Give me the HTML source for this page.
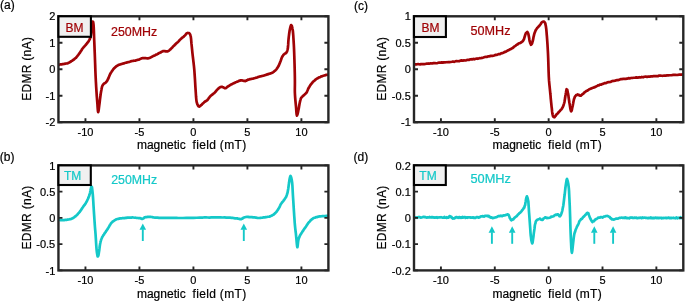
<!DOCTYPE html>
<html><head><meta charset="utf-8"><style>
html,body{margin:0;padding:0;background:#fff;width:685px;height:301px;overflow:hidden}
svg{display:block;will-change:transform}
text{font-family:"Liberation Sans",sans-serif;font-size:12px;fill:#000;stroke:#000;stroke-width:0.2px}
.tk{font-size:11px}
</style></head><body>
<svg width="685" height="301" viewBox="0 0 685 301">
<rect width="685" height="301" fill="#fff"/>
<clipPath id="clipa"><rect x="58.45" y="16.3" width="269.95" height="105.9"/></clipPath>
<g clip-path="url(#clipa)"><polyline points="58.60,64.80 59.26,64.70 59.91,64.52 60.56,64.35 61.22,64.43 61.90,64.34 62.60,64.00 63.47,64.04 64.38,63.82 65.32,63.63 66.25,63.51 67.15,63.43 68.00,63.19 68.72,62.68 69.41,62.45 70.07,61.91 70.71,61.64 71.35,61.10 72.00,60.79 72.67,60.37 73.34,59.81 74.00,59.47 74.66,58.82 75.29,58.25 75.90,57.82 76.51,57.05 77.10,56.40 77.66,55.74 78.21,55.04 78.76,54.18 79.30,53.39 79.86,52.77 80.41,51.79 80.95,51.09 81.49,50.21 82.03,49.26 82.60,48.49 83.14,47.83 83.70,47.21 84.26,46.57 84.82,45.95 85.37,45.35 85.90,44.81 86.38,44.12 86.86,43.52 87.33,43.01 87.78,42.31 88.21,41.74 88.60,41.31 88.94,40.67 89.25,40.15 89.54,39.50 89.81,39.04 90.07,38.48 90.30,37.68 90.59,36.72 90.83,35.46 91.02,33.97 91.19,32.71 91.34,31.29 91.50,30.04 91.63,28.81 91.75,27.72 91.85,26.56 91.95,25.28 92.07,24.28 92.20,23.54 92.29,23.10 92.39,22.41 92.60,21.57 93.11,21.95 93.31,22.89 93.40,23.47 93.60,25.31 93.75,27.79 93.88,30.73 93.98,33.77 94.08,36.95 94.20,40.07 94.34,43.13 94.48,46.62 94.61,50.08 94.75,53.38 94.88,56.71 95.00,60.07 95.10,62.71 95.20,65.39 95.29,68.10 95.38,70.78 95.48,73.26 95.60,75.96 95.73,78.67 95.87,81.54 96.03,84.19 96.18,87.00 96.34,89.44 96.50,91.96 96.63,93.94 96.76,95.81 96.89,97.46 97.02,99.13 97.16,100.80 97.30,102.61 97.44,104.36 97.57,106.58 97.72,108.65 97.86,110.28 98.02,111.57 98.20,112.10 98.55,110.92 98.74,109.59 98.93,108.13 99.12,106.51 99.30,105.11 99.48,103.81 99.64,102.56 99.81,101.03 99.97,99.66 100.13,98.30 100.30,96.98 100.46,95.82 100.61,94.80 100.77,93.50 100.94,92.37 101.11,91.53 101.30,90.49 101.46,89.66 101.60,88.67 101.76,87.96 101.93,87.17 102.14,86.28 102.40,85.76 102.62,85.37 102.87,84.96 103.41,84.28 104.00,83.65 104.65,83.22 105.34,82.83 106.00,82.30 106.72,81.48 107.05,80.86 107.37,80.40 107.69,79.60 108.00,79.20 108.35,78.41 108.68,77.67 109.00,76.85 109.32,76.03 109.65,75.16 110.00,74.28 110.31,73.87 110.63,73.16 110.95,72.65 111.29,72.20 111.64,71.64 112.00,71.08 112.39,70.64 112.79,69.99 113.20,69.37 113.64,68.79 114.10,68.40 114.60,67.79 115.19,67.33 115.82,66.69 116.48,66.14 117.17,65.74 117.88,65.36 118.60,64.82 119.34,64.65 120.12,64.42 120.91,64.18 121.71,63.98 122.51,63.59 123.30,63.53 124.06,63.36 124.82,62.95 125.58,62.78 126.34,62.57 127.11,62.42 127.90,62.18 128.78,61.96 129.70,61.80 130.63,61.38 131.54,61.17 132.41,60.99 133.20,60.81 133.71,60.70 134.64,60.77 135.53,60.59 136.00,60.30 136.53,60.26 137.07,60.07 137.62,59.90 138.17,59.73 138.73,59.62 139.30,59.42 139.94,59.13 140.59,58.82 141.25,58.57 141.92,58.26 142.60,58.15 143.30,58.05 144.06,57.98 144.85,58.04 145.65,58.12 146.46,58.28 147.24,58.44 148.00,58.37 148.70,58.26 149.37,58.06 150.04,57.66 150.69,57.43 151.34,57.05 152.00,56.68 152.66,56.37 153.31,56.08 153.95,55.82 154.60,55.43 155.25,55.17 155.90,54.79 156.57,54.41 157.24,54.14 157.92,53.84 158.59,53.36 159.26,53.11 159.90,52.78 160.46,52.58 161.00,52.26 161.54,51.79 162.07,51.61 162.62,51.34 163.20,51.04 163.84,51.05 164.53,51.12 165.23,51.17 165.92,51.46 166.58,51.46 167.20,51.44 167.70,51.34 168.16,51.10 168.60,50.81 169.03,50.53 169.46,50.16 169.90,49.70 170.45,49.35 171.01,48.68 171.57,48.14 172.12,47.70 172.67,46.94 173.20,46.40 173.69,45.92 174.17,45.62 174.64,44.97 175.11,44.47 175.56,44.21 176.00,43.61 176.67,43.14 177.31,42.50 178.00,41.88 178.50,41.41 179.04,40.77 179.59,40.25 180.16,39.49 180.73,39.10 181.30,38.50 181.85,38.08 182.41,37.48 182.97,37.20 183.53,36.81 184.08,36.15 184.60,35.76 185.07,35.32 185.53,34.82 185.97,34.12 186.41,33.59 186.85,33.19 187.64,32.95 188.35,32.98 189.01,33.10 189.60,33.55 190.06,34.36 190.25,34.85 190.43,35.41 190.60,35.90 190.84,37.05 191.01,38.38 191.14,39.58 191.25,41.08 191.37,42.38 191.50,43.95 191.68,45.66 191.86,47.42 192.04,49.20 192.23,51.03 192.41,52.88 192.60,54.70 192.78,56.13 192.98,57.72 193.17,59.47 193.36,61.07 193.54,62.47 193.70,63.89 193.82,65.03 193.92,65.90 194.02,66.88 194.11,67.83 194.21,68.93 194.30,69.96 194.42,71.46 194.54,73.20 194.66,74.96 194.78,76.53 194.89,78.36 195.00,79.98 195.10,81.72 195.19,83.27 195.27,84.81 195.36,86.43 195.47,88.05 195.60,89.90 195.75,92.08 195.90,94.46 196.06,96.98 196.28,99.34 196.58,101.57 197.00,103.11 197.28,104.09 197.58,104.70 197.91,105.39 198.26,105.90 198.62,106.38 199.29,106.57 199.91,106.17 200.56,105.58 201.42,104.91 201.98,104.40 202.57,103.71 203.16,103.20 203.74,102.69 204.30,102.09 204.74,101.72 205.60,101.22 206.46,100.80 206.90,100.44 207.54,99.87 208.19,99.08 208.85,98.08 209.52,97.21 210.21,96.39 210.90,95.62 211.56,95.15 212.24,94.63 212.93,94.11 213.61,93.43 214.27,93.05 214.90,92.36 215.45,91.80 215.97,91.27 216.47,90.49 216.97,89.89 217.47,89.49 218.00,88.85 218.49,88.44 218.99,88.08 219.51,87.71 220.02,87.21 220.52,87.02 221.34,86.85 222.00,86.91 222.66,87.10 223.41,87.29 223.82,87.60 224.67,88.14 225.50,88.20 226.34,87.79 226.74,87.49 227.15,87.01 227.57,86.67 228.00,86.44 228.47,86.00 228.96,85.88 229.45,85.59 229.95,85.10 230.47,85.00 231.00,84.57 231.63,84.33 232.28,83.98 232.96,83.53 233.64,83.28 234.32,82.95 235.00,82.67 235.66,82.25 236.33,82.07 237.00,81.84 237.66,81.50 238.30,81.23 238.90,80.91 239.77,80.68 240.58,80.39 241.40,80.30 242.25,80.44 243.11,80.65 243.90,80.82 244.42,80.84 244.89,81.04 245.40,81.03 246.18,80.63 247.02,80.32 247.46,80.03 248.37,79.55 249.35,79.47 249.85,79.16 250.37,79.09 250.90,79.05 251.55,78.88 252.22,78.73 252.92,78.61 253.62,78.43 254.32,78.23 255.00,78.02 255.67,77.79 256.34,77.70 257.00,77.46 257.67,77.16 258.33,76.97 259.00,76.67 259.66,76.47 260.31,76.36 260.96,76.34 261.63,76.01 262.30,75.98 263.00,75.74 263.85,75.62 264.74,75.25 265.65,74.95 266.56,74.66 267.45,74.40 268.30,74.17 269.01,73.84 269.70,73.76 270.38,73.38 271.04,73.20 271.68,72.91 272.30,72.61 272.90,72.41 273.48,72.01 274.04,71.45 274.58,71.00 275.10,70.58 275.60,70.16 276.10,69.64 276.59,69.05 277.05,68.42 277.49,67.70 277.91,67.12 278.30,66.43 278.67,65.82 279.00,65.12 279.31,64.30 279.60,63.57 279.90,62.94 280.20,61.99 280.53,61.30 280.85,60.39 281.16,59.46 281.49,58.41 281.83,57.58 282.20,56.82 282.51,56.30 282.82,55.88 283.15,55.34 283.49,54.81 284.20,54.19 284.87,53.64 285.58,53.32 286.20,52.85 286.51,52.26 287.01,51.47 287.22,50.87 287.41,50.19 287.60,49.51 287.87,48.04 288.05,46.24 288.19,44.41 288.30,42.30 288.43,40.44 288.60,38.64 288.79,36.95 288.98,35.32 289.17,33.78 289.39,32.19 289.63,30.54 289.90,29.37 290.11,28.41 290.34,27.31 290.58,26.47 290.83,25.66 291.07,25.10 291.76,25.71 291.99,26.56 292.21,27.32 292.41,28.43 292.60,29.35 292.87,31.00 293.09,33.26 293.27,35.50 293.42,37.99 293.56,40.35 293.70,42.66 293.83,44.75 293.94,46.99 294.04,49.16 294.13,51.33 294.21,53.53 294.30,56.06 294.42,59.68 294.54,63.65 294.66,67.90 294.76,72.16 294.84,76.25 294.90,79.92 294.91,82.44 294.89,84.77 294.86,86.90 294.83,88.99 294.84,91.17 294.90,93.25 295.02,95.54 295.18,97.89 295.37,100.09 295.58,102.28 295.80,104.63 296.00,106.65 296.15,108.38 296.29,110.36 296.44,112.33 296.59,114.01 296.78,115.08 297.00,115.60 297.49,114.33 297.77,113.18 298.06,111.92 298.34,110.36 298.60,109.19 298.85,107.88 299.08,106.58 299.29,105.25 299.51,104.01 299.75,102.73 300.00,101.59 300.19,100.86 300.36,100.18 300.54,99.59 300.74,98.86 300.99,98.25 301.30,97.79 301.67,97.27 302.10,96.87 302.56,96.27 303.05,95.93 303.54,95.51 304.00,94.99 304.45,94.79 304.90,94.20 305.36,93.77 305.80,93.44 306.22,92.92 306.60,92.53 306.97,91.83 307.28,91.08 307.56,90.33 307.84,89.74 308.14,88.88 308.50,88.27 308.96,87.38 309.47,86.66 310.00,85.68 310.56,84.85 311.13,84.07 311.70,83.48 312.20,82.83 312.71,82.20 313.23,81.60 313.76,81.23 314.32,80.80 314.90,80.22 315.55,79.58 316.23,79.11 316.93,78.66 317.65,78.23 318.38,77.78 319.10,77.39 319.80,77.18 320.50,76.91 321.21,76.44 321.92,76.34 322.65,75.95 323.40,75.77 324.20,75.56 325.03,75.35 325.87,74.94 326.71,74.83 327.56,74.72 328.40,74.61" fill="none" stroke="#a00306" stroke-width="2.7" stroke-linejoin="round" stroke-linecap="round"/></g>
<clipPath id="clipb"><rect x="58.45" y="165.4" width="269.95" height="104.99999999999997"/></clipPath>
<g clip-path="url(#clipb)"><polyline points="58.45,219.90 59.15,219.84 59.85,219.97 60.55,220.20 61.25,220.04 61.93,220.16 62.60,220.20 63.19,220.12 63.77,220.17 64.34,220.17 64.90,219.86 65.45,219.95 66.00,219.87 66.52,219.84 67.04,219.69 67.55,219.73 68.05,219.50 69.00,219.37 69.69,219.22 70.33,219.27 71.00,218.99 71.47,218.74 71.97,218.48 72.48,218.39 73.00,218.06 73.51,217.78 74.00,217.37 74.52,217.03 75.02,216.55 75.53,216.31 76.03,215.67 76.52,215.36 77.00,214.98 77.52,214.42 78.03,213.69 78.53,213.16 79.02,212.74 79.51,212.07 80.00,211.51 80.51,210.82 81.02,209.96 81.51,209.35 82.01,208.55 82.50,207.68 83.00,206.96 83.51,206.17 84.03,205.56 84.55,205.03 85.06,204.08 85.55,203.52 86.00,202.68 86.38,202.02 86.74,201.53 87.07,200.74 87.39,200.02 87.70,199.38 88.00,198.84 88.30,198.13 88.58,197.26 88.86,196.62 89.12,196.13 89.37,195.17 89.60,194.52 89.84,193.58 90.05,192.74 90.24,191.71 90.43,190.80 90.61,189.82 90.80,188.91 91.07,187.73 91.21,187.12 91.47,186.52 91.92,187.05 92.07,187.94 92.22,189.33 92.36,190.31 92.50,191.72 92.76,194.11 93.01,197.45 93.25,200.97 93.47,204.86 93.69,208.39 93.90,211.64 94.06,214.07 94.22,216.42 94.36,218.49 94.51,220.74 94.65,222.81 94.80,224.78 94.93,226.72 95.06,228.27 95.19,229.93 95.32,231.34 95.46,233.12 95.60,234.89 95.78,237.60 95.95,240.34 96.13,243.47 96.32,246.50 96.54,249.09 96.80,251.52 96.97,252.75 97.14,253.86 97.33,255.04 97.52,255.96 97.71,256.48 98.27,255.91 98.46,255.22 98.65,253.99 98.83,252.96 99.00,251.88 99.18,250.75 99.34,249.47 99.49,248.39 99.64,247.01 99.81,245.79 100.00,244.65 100.18,243.62 100.36,242.82 100.55,241.84 100.76,240.98 100.97,240.36 101.20,239.62 101.37,239.14 101.55,238.55 101.92,237.79 102.14,237.25 102.40,236.95 102.84,236.18 103.36,235.18 103.94,234.53 104.52,233.47 105.09,232.63 105.60,232.07 105.96,231.40 106.31,230.96 106.64,230.51 106.96,229.85 107.60,229.07 107.92,228.41 108.24,227.92 108.55,227.35 108.86,226.93 109.18,226.40 109.50,225.74 109.82,225.16 110.15,224.70 110.47,224.21 110.81,223.60 111.50,222.70 112.10,222.18 112.73,221.54 113.09,221.33 113.50,221.04 114.16,220.61 114.90,220.07 115.72,219.62 116.57,219.32 117.44,219.05 118.30,218.81 119.21,218.61 120.15,218.40 121.12,218.45 122.08,218.19 123.01,218.17 123.90,218.22 124.60,218.11 125.26,217.88 125.90,217.79 126.55,217.90 127.21,217.60 127.90,217.59 128.75,217.66 129.62,217.63 130.52,217.49 131.43,217.57 132.36,217.44 133.30,217.51 134.40,217.73 135.57,217.71 136.75,217.95 137.91,218.00 138.97,218.19 139.90,218.06 140.41,218.25 140.87,218.38 141.29,218.71 142.09,218.95 142.92,218.72 143.68,218.25 144.07,217.75 145.00,217.24 145.79,217.03 146.69,217.08 147.65,216.92 148.65,216.95 149.65,216.90 150.60,216.86 151.47,217.03 152.31,217.18 153.14,217.32 154.00,217.51 154.91,217.60 155.90,217.52 157.44,217.58 159.12,217.84 160.90,217.89 162.74,217.85 164.62,217.97 166.50,217.92 168.60,217.86 170.72,217.84 172.89,217.94 175.11,217.78 177.41,217.96 179.80,218.02 182.97,217.99 186.40,217.81 189.95,217.82 193.45,217.84 196.75,217.75 199.70,217.63 201.48,217.54 203.10,217.53 204.62,217.39 206.11,217.36 207.65,217.48 209.30,217.55 211.41,217.39 213.63,217.33 215.91,217.30 218.20,217.34 220.45,217.34 222.60,217.49 224.48,217.45 226.38,217.68 228.24,217.54 230.02,217.70 231.69,217.88 233.20,217.97 234.12,218.20 234.98,218.29 235.78,218.42 236.54,218.43 237.28,218.36 238.00,218.62 238.57,218.72 239.12,218.84 239.64,218.92 240.16,219.15 240.67,219.14 241.20,219.22 241.78,218.78 242.34,218.62 242.90,218.12 243.49,217.74 244.11,217.48 244.80,217.24 245.81,216.98 246.92,216.89 248.11,216.83 249.34,217.14 250.58,217.02 251.80,217.16 253.12,217.40 254.49,217.39 255.88,217.54 257.24,217.90 258.56,218.00 259.80,217.90 260.75,217.80 261.67,217.74 262.56,217.59 263.42,217.42 264.23,217.33 265.00,217.44 265.54,217.11 266.05,217.09 267.00,216.97 267.90,216.77 268.63,216.73 269.31,216.60 270.00,216.40 270.74,216.07 271.49,215.83 272.20,215.25 272.82,214.97 273.41,214.78 274.00,214.07 274.63,213.63 275.26,213.15 275.90,212.43 276.38,211.94 276.87,211.13 277.37,210.47 277.87,209.93 278.35,208.93 278.80,208.42 279.19,207.49 279.55,207.02 279.89,206.19 280.23,205.46 280.60,204.59 281.00,203.87 281.46,203.39 281.96,202.53 282.49,201.87 283.01,201.40 283.52,200.76 284.00,199.86 284.40,199.57 284.80,198.89 285.18,198.29 285.55,197.66 285.89,197.17 286.20,196.75 286.49,195.88 286.75,195.16 286.99,194.47 287.20,193.75 287.40,193.06 287.60,192.42 287.84,191.01 288.06,189.76 288.26,188.64 288.45,187.30 288.62,185.98 288.80,184.52 288.94,183.58 289.07,182.81 289.19,181.74 289.31,180.92 289.45,179.95 289.60,179.06 289.73,178.49 289.87,177.91 290.02,177.23 290.18,176.58 290.50,176.00 290.97,176.80 291.22,177.68 291.47,178.69 291.70,179.83 291.90,181.00 292.16,182.71 292.36,185.02 292.51,187.52 292.63,190.00 292.76,192.33 292.90,195.04 293.07,197.60 293.24,200.06 293.40,202.78 293.56,205.45 293.73,208.06 293.90,210.94 294.06,213.19 294.22,215.73 294.38,217.89 294.54,220.20 294.71,222.73 294.90,224.89 295.07,226.70 295.24,228.28 295.43,229.85 295.61,231.53 295.81,232.97 296.00,234.81 296.22,237.06 296.46,239.65 296.70,242.50 296.94,244.80 297.17,246.55 297.40,247.20 297.70,245.69 297.85,244.20 298.00,242.57 298.18,241.08 298.40,239.94 298.58,239.25 298.76,238.61 298.96,238.03 299.18,237.30 299.42,236.94 299.70,236.13 300.07,235.36 300.49,234.73 300.94,234.06 301.41,233.18 301.90,232.51 302.40,231.63 302.96,230.97 303.55,229.93 304.16,229.04 304.77,228.17 305.39,227.38 306.00,226.55 306.58,225.58 307.14,224.71 307.72,223.93 308.29,222.96 308.89,222.30 309.50,221.70 310.06,221.07 310.63,220.26 311.22,219.94 311.82,219.27 312.44,218.97 313.10,218.36 313.79,217.95 314.50,217.73 315.24,217.56 316.00,217.19 316.79,217.11 317.60,216.86 318.59,216.57 319.65,216.40 320.74,216.34 321.83,216.22 322.90,216.14 323.90,216.15 324.69,216.16 325.45,216.03 326.20,215.87 326.93,215.87 327.66,215.89 328.40,215.93" fill="none" stroke="#14c8c8" stroke-width="2.7" stroke-linejoin="round" stroke-linecap="round"/></g>
<clipPath id="clipc"><rect x="414.0" y="16.3" width="269.29999999999995" height="105.9"/></clipPath>
<g clip-path="url(#clipc)"><polyline points="414.00,64.60 414.83,64.35 415.65,64.26 416.46,64.31 417.29,64.22 418.13,64.03 419.00,64.22 420.01,64.34 421.06,64.08 422.12,64.12 423.20,64.10 424.26,64.04 425.30,64.01 426.26,63.71 427.19,63.76 428.12,63.41 429.05,63.73 430.01,63.41 431.00,63.39 432.21,63.51 433.48,63.13 434.77,63.00 436.07,63.23 437.36,63.04 438.60,62.69 439.70,62.58 440.77,62.66 441.82,62.41 442.87,62.74 443.93,62.33 445.00,62.29 446.14,62.25 447.30,62.22 448.46,62.08 449.62,62.08 450.77,61.99 451.90,61.77 452.93,61.49 453.94,61.82 454.94,61.56 455.94,61.13 456.96,61.19 458.00,61.23 459.18,61.22 460.41,60.62 461.65,60.46 462.89,60.56 464.08,60.40 465.20,60.50 466.06,60.35 466.87,59.98 467.65,59.91 468.43,59.87 469.21,59.90 470.00,59.45 470.84,59.44 471.69,59.19 472.55,59.36 473.40,58.96 474.22,59.32 475.00,59.01 475.59,58.96 476.13,58.64 476.66,58.64 477.19,58.68 477.76,58.79 478.40,58.52 479.51,58.18 480.75,58.27 482.08,57.82 483.44,57.46 484.76,57.01 486.00,56.80 487.00,56.90 487.98,56.33 488.93,56.34 489.86,56.21 490.78,55.90 491.70,55.93 492.53,55.86 493.34,55.71 494.13,55.52 494.93,55.12 495.75,54.88 496.60,54.87 497.66,54.51 498.77,54.10 499.90,54.06 501.05,53.32 502.18,53.20 503.30,52.82 504.42,51.96 505.55,51.88 506.68,51.14 507.79,50.53 508.87,49.99 509.90,49.37 510.82,49.06 511.72,48.43 512.60,48.07 513.44,47.47 514.24,46.51 515.00,46.15 515.54,45.75 516.05,45.26 516.53,44.92 517.00,44.57 517.48,44.43 518.00,43.92 518.59,43.49 519.22,43.26 519.86,43.10 520.49,42.88 521.07,42.42 521.60,42.30 522.00,41.73 522.70,41.27 523.01,40.86 523.31,40.22 523.99,39.17 524.32,37.95 524.63,36.90 524.93,35.81 525.24,34.80 525.60,33.87 525.86,33.21 526.41,32.69 526.69,32.38 527.20,31.90 527.60,32.22 527.96,33.02 528.30,33.78 528.60,35.16 528.86,36.40 529.10,37.67 529.35,39.49 529.61,40.98 529.90,41.82 530.10,42.79 530.54,43.80 530.76,44.16 530.98,44.78 531.64,44.24 532.08,43.32 532.29,42.58 532.50,41.70 532.81,40.79 533.09,39.63 533.37,38.00 533.65,36.56 533.95,35.32 534.30,33.87 534.59,33.04 534.88,32.28 535.19,31.63 535.52,30.58 535.89,29.81 536.30,29.43 536.77,28.62 537.30,27.81 537.86,27.43 538.45,26.78 539.03,25.96 539.60,25.54 540.15,24.79 540.72,24.01 541.29,23.05 541.85,22.26 542.39,22.08 542.90,21.82 543.47,21.61 544.02,21.64 544.50,21.99 544.81,22.43 545.07,22.81 545.28,23.70 545.46,24.39 545.63,25.11 545.80,25.80 546.05,27.46 546.26,28.96 546.44,30.92 546.59,32.52 546.74,34.57 546.90,36.45 547.11,39.15 547.30,41.96 547.49,44.57 547.66,47.49 547.84,50.75 548.00,53.75 548.18,58.04 548.33,62.36 548.46,66.96 548.61,71.77 548.78,76.31 549.00,80.18 549.19,82.48 549.40,84.71 549.62,86.71 549.85,88.92 550.08,91.04 550.30,93.52 550.51,95.35 550.72,98.05 550.92,100.09 551.14,102.31 551.36,104.40 551.60,106.83 551.79,108.19 551.97,110.19 552.15,111.91 552.36,113.37 552.64,114.74 553.00,116.14 553.39,116.71 553.84,117.15 554.61,117.27 554.93,116.55 555.59,115.89 555.94,115.39 556.30,114.66 556.72,114.31 557.16,114.11 557.61,113.31 558.07,113.05 558.53,112.25 559.00,111.98 559.55,111.17 560.13,110.66 560.72,109.95 561.29,109.52 561.83,108.76 562.30,107.90 562.73,107.19 563.11,106.23 563.44,105.55 563.75,104.38 564.03,103.59 564.30,102.64 564.58,101.30 564.82,99.79 565.02,98.46 565.20,97.30 565.39,95.73 565.60,94.73 565.79,93.48 565.99,92.47 566.18,91.21 566.38,90.12 566.59,89.21 567.26,89.75 567.50,91.03 567.75,92.33 567.98,93.66 568.20,94.45 568.45,95.85 568.68,97.80 568.90,99.28 569.12,100.78 569.35,102.50 569.60,103.72 569.85,105.39 570.11,107.10 570.38,108.69 570.65,109.87 570.93,110.84 571.20,111.40 571.64,110.63 571.87,109.90 572.09,108.52 572.30,107.45 572.50,106.59 572.69,106.07 572.85,104.98 573.01,104.10 573.16,103.47 573.32,102.39 573.50,101.38 573.66,100.90 573.81,99.87 574.15,98.70 574.35,98.29 574.60,97.44 575.14,96.31 575.78,95.58 576.13,95.10 576.81,94.99 577.48,94.43 578.17,94.80 578.84,94.77 579.51,95.42 580.17,95.62 580.84,95.70 581.50,95.10 582.16,94.45 582.90,93.94 583.31,93.75 583.71,93.14 584.13,92.69 585.00,92.06 585.47,91.56 586.44,91.03 586.94,90.85 587.46,90.53 588.00,90.25 588.63,89.75 589.28,89.28 589.95,88.94 590.64,88.76 591.32,88.36 592.00,88.23 592.66,87.78 593.33,87.74 594.00,87.38 594.67,87.14 595.34,86.90 596.00,86.51 596.64,86.18 597.27,85.83 597.90,85.42 598.53,85.51 599.20,85.08 599.90,84.60 600.80,84.69 601.75,84.19 602.73,83.90 603.75,83.49 604.81,83.03 605.90,83.15 607.32,82.34 608.84,82.04 610.41,81.96 612.00,81.13 613.57,80.95 615.10,80.59 616.48,80.17 617.84,80.21 619.19,79.68 620.52,79.22 621.86,79.21 623.20,78.75 624.50,78.91 625.80,78.83 627.09,78.70 628.39,78.13 629.69,78.32 631.00,78.00 632.36,77.96 633.72,77.75 635.10,77.64 636.47,77.44 637.84,77.58 639.20,77.19 640.51,77.52 641.81,76.94 643.10,77.28 644.39,76.77 645.69,76.60 647.00,76.82 648.37,76.61 649.76,76.62 651.15,76.39 652.55,76.35 653.93,75.99 655.30,76.19 656.60,76.02 657.88,76.15 659.15,75.59 660.42,75.54 661.70,75.76 663.00,75.81 664.36,75.49 665.72,75.57 667.09,75.43 668.48,75.29 669.91,75.26 671.40,75.25 673.26,74.86 675.21,74.89 677.22,74.98 679.26,74.62 681.29,74.61 683.30,74.38" fill="none" stroke="#a00306" stroke-width="2.7" stroke-linejoin="round" stroke-linecap="round"/></g>
<clipPath id="clipd"><rect x="414.0" y="165.4" width="269.29999999999995" height="104.99999999999997"/></clipPath>
<g clip-path="url(#clipd)"><polyline points="414.00,217.30 414.50,217.20 415.00,217.50 415.50,217.62 416.00,217.42 417.00,217.80 417.50,217.34 418.00,217.35 418.50,217.09 419.00,217.24 419.50,217.02 420.00,217.21 420.50,217.53 421.00,217.57 421.50,217.47 422.50,217.17 423.00,217.05 423.50,216.91 424.00,216.94 424.50,217.20 425.00,216.96 425.50,217.18 426.50,217.62 427.00,217.44 427.50,217.34 428.00,217.53 429.00,217.38 429.50,216.95 430.00,217.51 430.50,217.50 431.00,217.27 431.50,217.15 432.00,217.50 432.50,217.16 433.00,217.21 433.50,217.31 434.00,217.60 434.50,217.30 435.00,217.60 435.50,217.56 436.00,217.39 436.50,217.61 437.00,217.10 437.50,217.75 438.00,217.53 438.50,217.49 439.00,217.36 439.50,217.42 440.00,217.39 440.50,217.34 441.00,217.16 441.50,217.36 442.00,217.46 442.50,217.55 443.00,217.54 443.50,217.66 444.00,217.26 444.50,217.01 445.00,217.69 445.50,217.67 446.00,217.65 446.50,217.94 447.01,217.26 447.51,217.61 448.51,217.53 449.01,217.22 449.50,216.14 450.00,216.31 450.50,216.52 451.00,217.16 451.50,216.96 452.00,217.82 453.00,218.55 453.50,218.41 454.00,218.57 454.50,218.05 454.99,217.69 455.49,217.80 456.00,217.16 456.99,217.13 457.50,217.37 458.00,217.89 458.50,217.51 459.00,217.27 459.50,217.03 460.00,217.84 460.50,217.25 461.00,217.28 461.50,217.78 462.00,217.12 462.50,216.91 463.00,217.59 463.50,217.21 464.50,217.05 465.00,217.13 465.50,217.88 466.00,217.55 467.00,217.24 467.50,217.78 468.00,217.39 469.00,217.27 469.50,217.28 470.00,217.23 470.50,217.55 471.00,217.58 471.50,217.45 472.00,217.55 472.50,217.55 473.00,217.34 473.50,217.80 474.00,217.49 474.50,217.89 475.00,217.76 475.50,217.85 476.00,217.57 476.50,217.16 477.00,217.27 477.50,217.17 478.00,217.05 478.48,217.68 478.96,217.51 479.45,217.39 480.00,216.95 480.90,216.40 481.91,216.52 482.97,216.04 484.00,216.66 485.02,215.92 486.05,215.76 487.05,215.84 488.00,216.30 488.79,215.93 489.53,217.04 490.25,216.97 491.00,217.65 491.73,217.36 492.47,218.22 493.22,217.93 494.00,217.81 494.94,217.53 495.91,217.41 496.90,216.93 497.90,216.28 498.89,215.96 499.89,216.22 500.90,215.60 501.90,216.23 502.94,215.63 503.99,215.36 505.01,215.36 505.90,214.95 506.47,214.85 506.98,214.67 507.45,214.26 508.46,214.67 508.96,215.60 509.43,216.91 509.90,218.15 510.29,218.58 510.66,219.63 511.05,219.99 511.50,220.30 512.03,219.83 512.62,219.42 513.25,219.42 513.90,218.48 514.84,217.57 515.87,216.73 516.88,216.07 517.80,214.79 518.39,214.25 518.94,213.79 519.46,212.99 520.00,212.94 520.68,212.13 521.38,211.32 522.07,210.42 522.70,209.58 523.26,209.01 523.79,207.77 524.27,207.67 524.70,205.95 525.13,205.08 525.45,202.67 525.71,201.43 526.00,199.38 526.22,198.16 526.44,197.50 526.66,196.94 526.90,196.30 527.46,197.71 527.75,198.80 528.00,200.03 528.35,201.65 528.59,204.98 528.79,208.02 529.00,211.83 529.25,214.84 529.50,218.44 529.75,221.84 530.00,225.35 530.23,228.42 530.44,232.04 530.68,235.00 531.00,237.42 531.27,239.98 531.57,241.08 531.89,242.47 532.20,243.40 532.60,242.65 533.01,239.62 533.41,236.82 533.80,233.38 534.16,230.85 534.50,228.50 534.86,225.26 535.30,223.51 535.56,222.88 535.82,221.35 536.15,221.02 536.60,220.42 537.17,219.81 537.86,219.54 538.59,219.20 539.30,218.90 539.95,218.60 540.59,219.10 541.24,219.73 541.90,219.80 542.70,219.86 543.51,218.50 544.34,218.12 545.20,217.27 546.03,217.58 546.89,218.07 547.75,217.92 548.60,218.00 549.44,217.80 550.26,217.56 551.08,216.66 551.90,216.81 552.74,216.54 553.58,216.26 554.41,215.42 555.20,215.06 555.83,214.68 556.44,214.98 557.02,214.30 557.60,214.30 558.23,214.59 558.85,215.43 559.45,216.26 560.00,216.30 560.74,215.28 561.40,213.54 561.96,211.90 562.40,210.25 562.60,209.09 562.86,207.62 563.33,205.42 563.69,202.53 564.05,199.50 564.40,196.51 564.72,194.31 565.04,191.10 565.35,188.24 565.70,185.64 566.00,183.68 566.32,181.63 566.65,179.61 567.00,179.00 567.40,180.13 567.84,181.66 568.26,183.77 568.60,186.14 568.87,188.55 569.05,191.18 569.17,193.80 569.30,196.62 569.46,199.71 569.61,203.17 569.75,205.96 569.90,210.26 570.13,216.73 570.35,225.24 570.60,232.55 570.90,239.79 571.12,243.98 571.35,248.45 571.60,251.23 571.90,252.80 572.25,251.09 572.65,247.39 573.07,243.49 573.50,239.87 573.80,237.22 574.09,235.39 574.43,233.51 574.90,232.31 575.55,230.02 576.32,228.31 577.14,226.32 577.90,225.04 578.42,224.00 578.90,222.75 579.41,221.11 580.00,220.55 580.62,219.85 581.30,218.79 582.01,218.83 582.70,217.74 583.41,216.91 584.11,216.37 584.81,215.51 585.50,214.70 586.07,214.42 586.63,213.49 587.18,212.87 587.70,212.90 588.33,213.16 588.89,214.94 589.43,216.36 590.00,217.93 590.57,219.02 591.15,220.05 591.76,221.17 592.40,222.10 592.91,221.63 593.44,221.06 593.99,221.10 594.60,220.27 595.42,219.36 596.31,219.15 597.27,218.50 598.30,217.51 599.59,217.76 601.00,217.05 602.43,217.56 603.80,216.58 605.01,216.39 606.22,215.98 607.35,215.96 608.30,216.33 608.86,216.62 609.31,216.91 609.73,217.09 610.20,217.84 610.73,218.51 611.27,218.35 611.85,219.47 612.50,219.30 613.41,219.58 614.43,219.40 615.50,218.84 616.60,218.51 617.96,218.65 619.41,217.86 620.82,217.79 622.00,217.56 622.57,217.89 623.52,217.92 624.50,217.60 625.00,218.11 625.50,217.43 626.00,217.78 626.50,218.03 627.00,217.78 627.50,218.27 628.00,218.21 628.50,218.16 629.00,217.99 629.50,218.29 630.00,217.54 630.50,217.68 631.00,217.67 631.50,217.64 632.00,217.79 632.50,217.62 633.00,217.97 633.50,217.86 634.00,218.04 634.50,217.66 635.00,217.65 635.50,217.84 636.00,217.56 636.50,217.76 637.00,218.08 637.50,218.22 638.00,217.99 638.50,217.85 639.00,217.76 639.50,217.92 640.00,217.77 641.00,217.56 641.50,218.18 642.00,217.85 642.50,217.38 643.00,217.92 643.50,217.73 644.00,217.72 645.00,217.48 645.50,217.85 646.00,217.80 647.00,217.76 647.50,218.18 648.00,218.10 648.50,217.82 649.00,218.07 649.50,217.74 650.50,218.10 651.00,217.48 651.50,218.11 652.00,218.13 652.50,217.84 653.00,218.27 653.50,217.83 654.50,218.10 655.00,217.81 655.50,217.68 656.00,217.96 656.50,218.09 657.00,217.66 657.50,218.12 658.00,217.87 658.50,217.95 659.00,218.21 659.50,217.82 660.00,217.97 661.00,217.78 661.50,218.31 662.00,217.94 662.50,218.10 663.00,217.87 663.50,218.05 664.00,218.00 664.50,217.92 665.00,218.08 665.50,217.93 666.00,217.68 666.50,218.24 667.00,218.09 667.50,217.92 668.00,217.67 668.50,217.51 669.00,217.51 669.50,218.09 670.00,218.23 670.50,218.11 671.00,217.73 671.50,218.18 672.00,218.01 672.50,217.99 673.00,217.87 673.50,218.06 674.00,217.92 674.50,218.07 675.00,218.12 675.50,218.28 676.00,217.83 676.50,217.48 677.00,217.92 677.50,218.29 678.00,217.89 678.50,217.98 679.00,217.84 679.50,218.03 680.00,217.68 680.51,217.30 681.03,218.07 681.53,218.00 682.34,218.00 682.98,217.67 683.30,217.91" fill="none" stroke="#14c8c8" stroke-width="2.7" stroke-linejoin="round" stroke-linecap="round"/></g>
<line x1="142.8" y1="229.3" x2="142.8" y2="241.0" stroke="#14c8c8" stroke-width="1.9"/><polygon points="142.8,223.5 139.5,229.8 146.10000000000002,229.8" fill="#14c8c8"/>
<line x1="243.8" y1="229.3" x2="243.8" y2="241.0" stroke="#14c8c8" stroke-width="1.9"/><polygon points="243.8,223.5 240.5,229.8 247.10000000000002,229.8" fill="#14c8c8"/>
<line x1="491.9" y1="232.3" x2="491.9" y2="243.8" stroke="#14c8c8" stroke-width="1.9"/><polygon points="491.9,226.3 488.59999999999997,232.8 495.2,232.8" fill="#14c8c8"/>
<line x1="512.2" y1="232.3" x2="512.2" y2="243.8" stroke="#14c8c8" stroke-width="1.9"/><polygon points="512.2,226.3 508.90000000000003,232.8 515.5,232.8" fill="#14c8c8"/>
<line x1="594.3" y1="232.3" x2="594.3" y2="243.8" stroke="#14c8c8" stroke-width="1.9"/><polygon points="594.3,226.3 591.0,232.8 597.5999999999999,232.8" fill="#14c8c8"/>
<line x1="613.1" y1="232.3" x2="613.1" y2="243.8" stroke="#14c8c8" stroke-width="1.9"/><polygon points="613.1,226.3 609.8000000000001,232.8 616.4,232.8" fill="#14c8c8"/>
<path d="M85.45,122.2V118.2M85.45,16.3V20.3M139.44,122.2V118.2M139.44,16.3V20.3M193.43,122.2V118.2M193.43,16.3V20.3M247.41,122.2V118.2M247.41,16.3V20.3M301.40,122.2V118.2M301.40,16.3V20.3M58.45,16.30H62.45M328.4,16.30H324.4M58.45,42.78H62.45M328.4,42.78H324.4M58.45,69.25H62.45M328.4,69.25H324.4M58.45,95.73H62.45M328.4,95.73H324.4M58.45,122.20H62.45M328.4,122.20H324.4" stroke="#262626" stroke-width="1.9" fill="none"/>
<rect x="58.45" y="16.3" width="269.95" height="105.90" fill="none" stroke="#262626" stroke-width="2.4"/>
<text x="85.45" y="135.90" class="tk" text-anchor="middle">-10</text>
<text x="139.44" y="135.90" class="tk" text-anchor="middle">-5</text>
<text x="193.43" y="135.90" class="tk" text-anchor="middle">0</text>
<text x="247.41" y="135.90" class="tk" text-anchor="middle">5</text>
<text x="301.40" y="135.90" class="tk" text-anchor="middle">10</text>
<text x="55.25" y="20.40" class="tk" text-anchor="end">2</text>
<text x="55.25" y="46.88" class="tk" text-anchor="end">1</text>
<text x="55.25" y="73.35" class="tk" text-anchor="end">0</text>
<text x="55.25" y="99.83" class="tk" text-anchor="end">-1</text>
<text x="55.25" y="126.30" class="tk" text-anchor="end">-2</text>
<path d="M85.45,270.4V266.4M85.45,165.4V169.4M139.44,270.4V266.4M139.44,165.4V169.4M193.43,270.4V266.4M193.43,165.4V169.4M247.41,270.4V266.4M247.41,165.4V169.4M301.40,270.4V266.4M301.40,165.4V169.4M58.45,165.40H62.45M328.4,165.40H324.4M58.45,191.65H62.45M328.4,191.65H324.4M58.45,217.90H62.45M328.4,217.90H324.4M58.45,244.15H62.45M328.4,244.15H324.4M58.45,270.40H62.45M328.4,270.40H324.4" stroke="#262626" stroke-width="1.9" fill="none"/>
<rect x="58.45" y="165.4" width="269.95" height="105.00" fill="none" stroke="#262626" stroke-width="2.4"/>
<text x="85.45" y="284.10" class="tk" text-anchor="middle">-10</text>
<text x="139.44" y="284.10" class="tk" text-anchor="middle">-5</text>
<text x="193.43" y="284.10" class="tk" text-anchor="middle">0</text>
<text x="247.41" y="284.10" class="tk" text-anchor="middle">5</text>
<text x="301.40" y="284.10" class="tk" text-anchor="middle">10</text>
<text x="55.25" y="169.50" class="tk" text-anchor="end">1</text>
<text x="55.25" y="195.75" class="tk" text-anchor="end">0.5</text>
<text x="55.25" y="222.00" class="tk" text-anchor="end">0</text>
<text x="55.25" y="248.25" class="tk" text-anchor="end">-0.5</text>
<text x="55.25" y="274.50" class="tk" text-anchor="end">-1</text>
<path d="M440.93,122.2V118.2M440.93,16.3V20.3M494.79,122.2V118.2M494.79,16.3V20.3M548.65,122.2V118.2M548.65,16.3V20.3M602.51,122.2V118.2M602.51,16.3V20.3M656.37,122.2V118.2M656.37,16.3V20.3M414.0,16.30H418.0M683.3,16.30H679.3M414.0,42.78H418.0M683.3,42.78H679.3M414.0,69.25H418.0M683.3,69.25H679.3M414.0,95.73H418.0M683.3,95.73H679.3M414.0,122.20H418.0M683.3,122.20H679.3" stroke="#262626" stroke-width="1.9" fill="none"/>
<rect x="414.0" y="16.3" width="269.30" height="105.90" fill="none" stroke="#262626" stroke-width="2.4"/>
<text x="440.93" y="135.90" class="tk" text-anchor="middle">-10</text>
<text x="494.79" y="135.90" class="tk" text-anchor="middle">-5</text>
<text x="548.65" y="135.90" class="tk" text-anchor="middle">0</text>
<text x="602.51" y="135.90" class="tk" text-anchor="middle">5</text>
<text x="656.37" y="135.90" class="tk" text-anchor="middle">10</text>
<text x="410.80" y="20.40" class="tk" text-anchor="end">1</text>
<text x="410.80" y="46.88" class="tk" text-anchor="end">0.5</text>
<text x="410.80" y="73.35" class="tk" text-anchor="end">0</text>
<text x="410.80" y="99.83" class="tk" text-anchor="end">-0.5</text>
<text x="410.80" y="126.30" class="tk" text-anchor="end">-1</text>
<path d="M440.93,270.4V266.4M440.93,165.4V169.4M494.79,270.4V266.4M494.79,165.4V169.4M548.65,270.4V266.4M548.65,165.4V169.4M602.51,270.4V266.4M602.51,165.4V169.4M656.37,270.4V266.4M656.37,165.4V169.4M414.0,165.40H418.0M683.3,165.40H679.3M414.0,191.65H418.0M683.3,191.65H679.3M414.0,217.90H418.0M683.3,217.90H679.3M414.0,244.15H418.0M683.3,244.15H679.3M414.0,270.40H418.0M683.3,270.40H679.3" stroke="#262626" stroke-width="1.9" fill="none"/>
<rect x="414.0" y="165.4" width="269.30" height="105.00" fill="none" stroke="#262626" stroke-width="2.4"/>
<text x="440.93" y="284.10" class="tk" text-anchor="middle">-10</text>
<text x="494.79" y="284.10" class="tk" text-anchor="middle">-5</text>
<text x="548.65" y="284.10" class="tk" text-anchor="middle">0</text>
<text x="602.51" y="284.10" class="tk" text-anchor="middle">5</text>
<text x="656.37" y="284.10" class="tk" text-anchor="middle">10</text>
<text x="410.80" y="169.50" class="tk" text-anchor="end">0.2</text>
<text x="410.80" y="195.75" class="tk" text-anchor="end">0.1</text>
<text x="410.80" y="222.00" class="tk" text-anchor="end">0</text>
<text x="410.80" y="248.25" class="tk" text-anchor="end">-0.1</text>
<text x="410.80" y="274.50" class="tk" text-anchor="end">-0.2</text>
<text x="136.95" y="149.40" >magnetic</text>
<text x="192.55" y="149.40" textLength="53.6" lengthAdjust="spacing">field (mT)</text>
<text x="136.95" y="297.60" >magnetic</text>
<text x="192.55" y="297.60" textLength="53.6" lengthAdjust="spacing">field (mT)</text>
<text x="492.50" y="149.40" >magnetic</text>
<text x="548.10" y="149.40" textLength="53.6" lengthAdjust="spacing">field (mT)</text>
<text x="492.50" y="297.60" >magnetic</text>
<text x="548.10" y="297.60" textLength="53.6" lengthAdjust="spacing">field (mT)</text>
<text transform="translate(30.75,68.95) rotate(-90)" text-anchor="middle" textLength="63.7" lengthAdjust="spacing">EDMR (nA)</text>
<text transform="translate(30.75,217.60) rotate(-90)" text-anchor="middle" textLength="63.7" lengthAdjust="spacing">EDMR (nA)</text>
<text transform="translate(386.30,68.95) rotate(-90)" text-anchor="middle" textLength="63.7" lengthAdjust="spacing">EDMR (nA)</text>
<text transform="translate(386.30,217.60) rotate(-90)" text-anchor="middle" textLength="63.7" lengthAdjust="spacing">EDMR (nA)</text>
<text x="0.10" y="9.40" >(a)</text>
<text x="-0.20" y="161.00" >(b)</text>
<text x="354.00" y="9.60" >(c)</text>
<text x="353.60" y="161.00" >(d)</text>
<rect x="58.45" y="16.3" width="32.45" height="20.50" fill="#f0f0f0" stroke="#000" stroke-width="2.1"/><text x="65.60" y="32.00" style="fill:#a00306;stroke:#a00306">BM</text>
<rect x="414.0" y="16.3" width="31.90" height="20.70" fill="#f0f0f0" stroke="#000" stroke-width="2.1"/><text x="421.60" y="32.00" style="fill:#a00306;stroke:#a00306">BM</text>
<rect x="58.45" y="165.4" width="32.35" height="19.60" fill="#f0f0f0" stroke="#000" stroke-width="2.1"/><text x="63.90" y="180.00" style="fill:#14c8c8;stroke:#14c8c8">TM</text>
<rect x="414.0" y="165.4" width="31.80" height="19.60" fill="#f0f0f0" stroke="#000" stroke-width="2.1"/><text x="419.30" y="180.00" style="fill:#14c8c8;stroke:#14c8c8">TM</text>
<text x="111.00" y="36.00" textLength="46.2" lengthAdjust="spacingAndGlyphs" style="fill:#a00306;stroke:#a00306">250MHz</text>
<text x="111.20" y="184.00" textLength="46.0" lengthAdjust="spacingAndGlyphs" style="fill:#14c8c8;stroke:#14c8c8">250MHz</text>
<text x="470.50" y="35.00" textLength="40.0" lengthAdjust="spacingAndGlyphs" style="fill:#a00306;stroke:#a00306">50MHz</text>
<text x="470.50" y="183.00" textLength="40.5" lengthAdjust="spacingAndGlyphs" style="fill:#14c8c8;stroke:#14c8c8">50MHz</text>
</svg>
</body></html>
